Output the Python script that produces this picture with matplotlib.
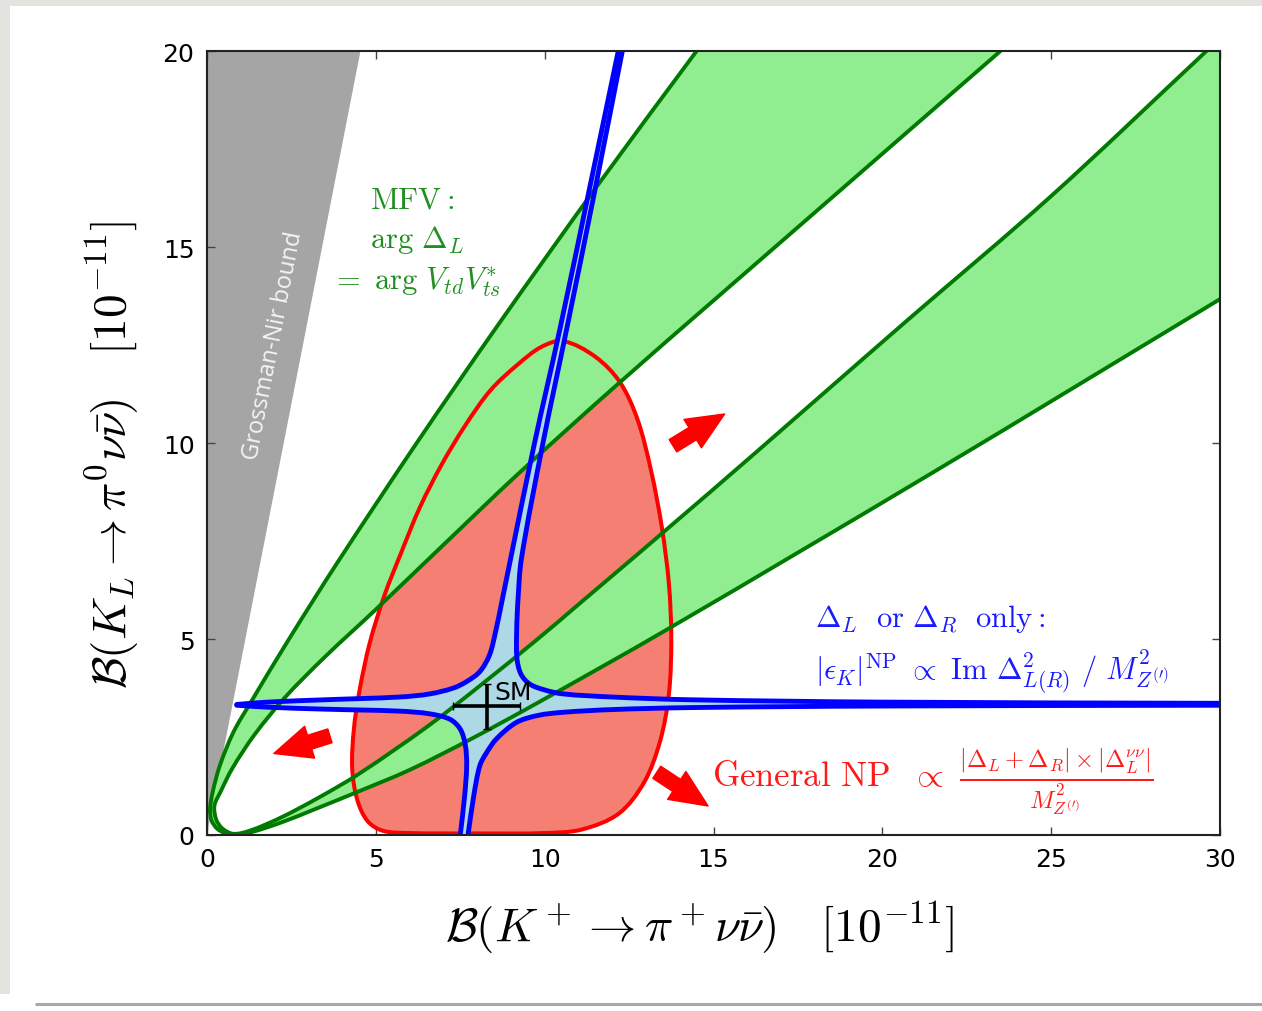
import numpy as np
import matplotlib
matplotlib.use("Agg")
import matplotlib.pyplot as plt
from matplotlib.path import Path
from matplotlib.patches import PathPatch, Polygon, Rectangle

plt.rcParams["mathtext.fontset"] = "cm"

# ---------------------------------------------------------------- data
# Grossman-Nir bound: B(KL) <= gn_slope * B(K+)
gn_slope = 4.4

# MFV band: outer and inner edge, each traced from the upper-left arm,
# around the origin and out along the lower-right arm
mfv_outer_x = [14.5, 11.59, 8.61, 6.21, 3.9, 2.43, 1.3, 0.78, 0.38, 0.17, 0.09,
               0.13, 0.29, 0.5, 0.78, 1.3, 2.2, 3.2, 4.4, 6.0, 7.8, 9.85, 13.64,
               21.5, 30.0]
mfv_outer_y = [20.0, 16.6, 13.0, 10.0, 7.0, 5.0, 3.39, 2.62, 1.77, 1.1, 0.66,
               0.38, 0.17, 0.06, 0.01, 0.07, 0.32, 0.66, 1.08, 1.66, 2.44, 3.4, 5.25,
               9.25, 13.67]
mfv_inner_x = [23.5, 17.8, 12.23, 9.2, 7.0, 5.02, 3.5, 2.3, 1.4, 0.75, 0.4, 0.22,
               0.27, 0.45, 0.78, 1.3, 2.2, 3.3, 4.5, 6.5, 8.0, 9.85, 10.85, 14.89,
               20.78, 25.0, 29.6]
mfv_inner_y = [20.0, 15.73, 11.55, 9.2, 7.4, 5.77, 4.55, 3.5, 2.55, 1.7, 1.1, 0.75,
               0.4, 0.17, 0.03, 0.12, 0.45, 0.95, 1.56, 2.75, 3.75, 5.04, 5.77, 8.74,
               13.16, 16.3, 20.0]

# General NP region (closed outline, clockwise from the top)
np_x = [10.55, 11.5, 12.23, 12.75, 13.15, 13.47, 13.68, 13.75, 13.68, 13.42, 12.95,
        12.2, 11.1, 10.0, 8.0, 6.0, 5.2, 4.75, 4.45, 4.3, 4.35, 4.52, 4.82, 5.25,
        5.75, 6.3, 6.95, 7.65, 8.4, 9.2, 9.9]
np_y = [12.6, 12.2, 11.55, 10.6, 9.3, 7.85, 6.4, 5.0, 3.6, 2.4, 1.35,
        0.55, 0.14, 0.05, 0.04, 0.05, 0.11, 0.36, 0.9, 1.7, 2.7, 3.7, 4.9, 6.1,
        7.2, 8.35, 9.45, 10.45, 11.35, 12.0, 12.45]

# Delta_L or Delta_R only: the four branches bounding the cross-shaped region
dl_upper_left_x = [0.88, 1.8, 3.5, 5.7, 6.6, 7.3, 7.7, 8.08, 8.37, 8.55, 8.72, 8.98,
                   9.7, 10.45, 11.33, 12.18]
dl_upper_left_y = [3.33, 3.39, 3.45, 3.52, 3.6, 3.75, 3.92, 4.17, 4.6, 5.2, 5.9,
                   7.0, 10.0, 12.9, 16.5, 20.0]
dl_upper_right_x = [12.3, 11.5, 10.65, 9.95, 9.31, 9.21, 9.17, 9.18, 9.3, 9.56,
                    10.0, 10.54, 12.0, 14.3, 20.0, 30.0]
dl_upper_right_y = [20.0, 16.5, 12.9, 10.0, 7.04, 6.0, 5.2, 4.5, 4.1, 3.85, 3.7,
                    3.6, 3.52, 3.45, 3.39, 3.36]
dl_lower_left_x = [0.88, 1.8, 3.5, 5.7, 6.6, 7.2, 7.5, 7.65, 7.69, 7.63, 7.5]
dl_lower_left_y = [3.31, 3.26, 3.21, 3.16, 3.09, 2.95, 2.7, 2.3, 1.77, 1.0, 0.0]
dl_lower_right_x = [7.73, 7.9, 8.08, 8.28, 8.57, 9.16, 9.8, 10.54, 12.0, 14.3, 20.0, 30.0]
dl_lower_right_y = [0.0, 1.0, 1.77, 2.1, 2.45, 2.87, 3.05, 3.13, 3.2, 3.25, 3.29, 3.31]

# Standard Model point with its uncertainty
sm_x, sm_y = 8.28, 3.28
sm_xerr, sm_yerr = 1.0, 0.58


# ---------------------------------------------------------------- helpers
def tangents(p, closed=False):
    n = len(p)
    t = np.zeros_like(p)
    for i in range(n):
        if closed:
            a, b = p[i - 1], p[(i + 1) % n]
            d = np.linalg.norm(p[i] - a) + np.linalg.norm(b - p[i])
        elif i == 0:
            a, b = p[0], p[1]
            d = np.linalg.norm(b - a)
        elif i == n - 1:
            a, b = p[-2], p[-1]
            d = np.linalg.norm(b - a)
        else:
            a, b = p[i - 1], p[i + 1]
            d = np.linalg.norm(p[i] - a) + np.linalg.norm(b - p[i])
        t[i] = (b - a) / d
    return t


def add_smooth(verts, codes, xs, ys, first="move", closed=False):
    """Append a smooth cubic-Bezier run through the given points."""
    p = np.column_stack([xs, ys]).astype(float)
    t = tangents(p, closed)
    verts.append(tuple(p[0]))
    codes.append(Path.MOVETO if first == "move" else Path.LINETO)
    n = len(p)
    segs = range(n) if closed else range(n - 1)
    for i in segs:
        j = (i + 1) % n
        L = np.linalg.norm(p[j] - p[i]) / 3.0
        verts += [tuple(p[i] + t[i] * L), tuple(p[j] - t[j] * L), tuple(p[j])]
        codes += [Path.CURVE4] * 3


def smooth_path(xs, ys, closed=False):
    v, c = [], []
    add_smooth(v, c, xs, ys, closed=closed)
    return Path(v, c)


def signed_area(pts):
    pts = list(pts)
    a = 0.0
    for (x0, y0), (x1, y1) in zip(pts, pts[1:] + pts[:1]):
        a += x0 * y1 - x1 * y0
    return 0.5 * a


# ---------------------------------------------------------------- figure
W, H = 1262, 1012
fig = plt.figure(figsize=(W / 100, H / 100), dpi=100, facecolor="white")

# page background: grey edges around the white sheet
bg = fig.add_axes([0, 0, 1, 1], zorder=-10)
bg.set_xlim(0, W)
bg.set_ylim(H, 0)
bg.axis("off")
bg.add_patch(Rectangle((0, 0), W, 7, color="#e3e3df", lw=0))
bg.add_patch(Rectangle((0, 0), 10, 995, color="#e3e3df", lw=0))
bg.plot([35, W], [1005, 1005], color="#a8a8a8", lw=2.2, solid_capstyle="butt")

ax = fig.add_axes([207 / W, 1 - 836 / H, (1220 - 207) / W, (836 - 52) / H])
ax.set_xlim(0, 30)
ax.set_ylim(0, 20)

# Grossman-Nir excluded wedge
ax.add_patch(Polygon([(0, 0), (20 / gn_slope, 20), (0, 20)], closed=True,
                     facecolor="#a5a5a5", edgecolor="none", zorder=1))
ax.text(1.95, 12.5, "Grossman-Nir bound", rotation=79, rotation_mode="anchor",
        ha="center", va="center", color="#f4f4f4", fontsize=17,
        family="Open Sans", zorder=2)

# General NP region
np_path = smooth_path(np_x, np_y, closed=True)
ax.add_patch(PathPatch(np_path, facecolor="#f47f72", edgecolor="none", zorder=2))
ax.add_patch(PathPatch(np_path, facecolor="none", edgecolor="#ff0000", lw=2.9,
                       zorder=4))

# MFV band = inside of the outer parabola minus inside of the inner one
ox, oy = list(mfv_outer_x), list(mfv_outer_y)
ix, iy = list(mfv_inner_x), list(mfv_inner_y)
outer_close = [(ox[-1] + 30, oy[-1]), (ox[-1] + 30, 60), (ox[0], 60)]
inner_close = [(ix[-1], 60), (ix[0], 60)]
if signed_area(list(zip(ox, oy)) + outer_close) * \
        signed_area(list(zip(ix, iy)) + inner_close) > 0:
    ix, iy = ix[::-1], iy[::-1]
    inner_close = [(ix[-1], 60), (ix[0], 60)]
verts, codes = [], []
add_smooth(verts, codes, ox, oy)
for q in outer_close:
    verts.append(q); codes.append(Path.LINETO)
verts.append((ox[0], oy[0])); codes.append(Path.CLOSEPOLY)
add_smooth(verts, codes, ix, iy)
for q in inner_close:
    verts.append(q); codes.append(Path.LINETO)
verts.append((ix[0], iy[0])); codes.append(Path.CLOSEPOLY)
ax.add_patch(PathPatch(Path(verts, codes), facecolor="#90ee90", edgecolor="none",
                       zorder=3))
for cx, cy in [(mfv_outer_x, mfv_outer_y), (mfv_inner_x, mfv_inner_y)]:
    ax.add_patch(PathPatch(smooth_path(cx, cy), facecolor="none",
                           edgecolor="#007a00", lw=2.8, zorder=6))

# Delta_L / Delta_R-only cross
verts, codes = [], []
add_smooth(verts, codes, dl_upper_left_x, dl_upper_left_y)
add_smooth(verts, codes, dl_upper_right_x, dl_upper_right_y, first="line")
add_smooth(verts, codes, dl_lower_right_x[::-1], dl_lower_right_y[::-1], first="line")
add_smooth(verts, codes, dl_lower_left_x[::-1], dl_lower_left_y[::-1], first="line")
verts.append((dl_upper_left_x[0], dl_upper_left_y[0])); codes.append(Path.CLOSEPOLY)
ax.add_patch(PathPatch(Path(verts, codes), facecolor="#add8e6", edgecolor="none",
                       zorder=5))
for bx, by in [(dl_upper_left_x, dl_upper_left_y),
               (dl_upper_right_x, dl_upper_right_y),
               (dl_lower_left_x, dl_lower_left_y),
               (dl_lower_right_x, dl_lower_right_y)]:
    ax.add_patch(PathPatch(smooth_path(bx, by), facecolor="none", edgecolor="#0000ff",
                           lw=3.5, capstyle="round", joinstyle="round", zorder=7))

# SM point
ax.errorbar([sm_x], [sm_y], xerr=[sm_xerr], yerr=[sm_yerr], fmt="none",
            ecolor="black", elinewidth=2.6, capsize=3, capthick=1, zorder=8)
ax.text(sm_x + 0.24, sm_y + 0.2, "SM", fontsize=18, color="black",
        ha="left", va="baseline", zorder=9)

# arrows pointing away from the SM-like region
for tail, tip in [((13.8, 9.93), (15.33, 10.74)),
                  ((3.64, 2.53), (1.98, 2.08)),
                  ((13.32, 1.6), (14.84, 0.74))]:
    ax.annotate("", xy=tip, xytext=tail, zorder=9,
                arrowprops=dict(arrowstyle="simple,head_length=1.35,head_width=1.2,"
                                           "tail_width=0.52",
                                color="#ff0000", shrinkA=0, shrinkB=0,
                                mutation_scale=20))

# annotations
green = "#1f8f1f"
ax.text(4.83, 16.02, r"$\mathrm{MFV}:$", color=green, fontsize=22, ha="left",
        va="baseline", zorder=9)
ax.text(4.83, 15.0, r"$\mathrm{arg}\ \Delta_L$", color=green, fontsize=22,
        ha="left", va="baseline", zorder=9)
ax.text(3.68, 13.93, r"$=\ \mathrm{arg}\ V_{td}V_{ts}^{*}$", color=green,
        fontsize=22, ha="left", va="baseline", zorder=9)

blue = "#1a1aff"
ax.text(18.0, 5.33, r"$\Delta_L\ \ \mathrm{or}\ \Delta_R\ \ \mathrm{only}:$",
        color=blue, fontsize=22, ha="left", va="baseline", zorder=9)
ax.text(18.0, 3.98,
        r"$|\epsilon_K|^{\mathrm{NP}}\ \propto\ \mathrm{Im}\ \Delta^2_{L(R)}\ /\ M^2_{Z^{(\prime)}}$",
        color=blue, fontsize=22, ha="left", va="baseline", zorder=9)

ax.text(14.95, 1.25,
        r"$\mathrm{General\ NP}\ \ \propto\ \frac{|\Delta_L+\Delta_R|\times|\Delta_L^{\nu\nu}|}{M^2_{Z^{(\prime)}}}$",
        color="#ff1a1a", fontsize=25, ha="left", va="baseline", zorder=9)

# axes styling
ax.set_xticks([0, 5, 10, 15, 20, 25, 30])
ax.set_yticks([0, 5, 10, 15, 20])
ax.tick_params(direction="in", length=6, width=1, color="#444444",
               top=True, right=True, labelsize=18, pad=9)
for s in ax.spines.values():
    s.set_linewidth(1.5)
    s.set_color("#222222")
    s.set_zorder(10)

fig.text(700 / W, 1 - 928 / H,
         r"$\mathcal{B}(K^+\to\pi^+\nu\bar{\nu})\quad[10^{-11}]$",
         fontsize=34, ha="center", va="center")
fig.text(112 / W, 1 - 455 / H,
         r"$\mathcal{B}(K_L\to\pi^0\nu\bar{\nu})\quad[10^{-11}]$",
         fontsize=34, ha="center", va="center", rotation=90)

fig.savefig("out.png", dpi=100, facecolor="white")
